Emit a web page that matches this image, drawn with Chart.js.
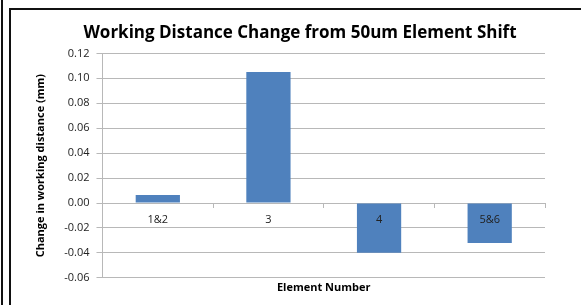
<!DOCTYPE html>
<html>
<head>
<meta charset="utf-8">
<script src="https://cdn.jsdelivr.net/npm/chart.js@4"></script>
<style>
  html, body { margin: 0; padding: 0; background: #fff; }
  body { width: 581px; height: 305px; position: relative; overflow: hidden; }
  .edge { position: absolute; left: 1px; top: 0; width: 2px; height: 305px; background: #111; }
  .frame { position: absolute; left: 9px; top: 8px; width: 590px; height: 310px;
           border-left: 2px solid #111; border-top: 2px solid #111; }
  #wrap { position: absolute; left: 12px; top: 11px; width: 569px; height: 294px; }
</style>
</head>
<body>
<div class="edge"></div>
<div class="frame"></div>
<div id="wrap"><canvas id="chart"></canvas></div>
<script>
// ── Data ──────────────────────────────────────────────────────────────────────

const elements = ['1&2', '3', '4', '5&6'];
const wdChange = [0.0065, 0.105, -0.040, -0.032];

const BAR_BLUE = '#4f81bd';
const GRID = '#b8b8b8';
const FONT = "'Open Sans', 'Liberation Sans', sans-serif";

// ── Chart ─────────────────────────────────────────────────────────────────────

new Chart(document.getElementById('chart').getContext('2d'), {
  type: 'bar',
  data: {
    labels: elements,
    datasets: [{
      data: wdChange,
      backgroundColor: BAR_BLUE,
      borderWidth: 0,
      barPercentage: 0.4,
      categoryPercentage: 1,
    }]
  },
  options: {
    responsive: true,
    maintainAspectRatio: false,
    animation: false,
    layout: { padding: { left: 43, right: 36, top: 4, bottom: 11 } },
    plugins: {
      legend: { display: false },
      tooltip: { enabled: false },
      title: {
        display: true,
        text: 'Working Distance Change from 50um Element Shift',
        color: '#000',
        font: { family: FONT, size: 17, weight: 'bold' },
        padding: { top: 8, bottom: 10 }
      }
    },
    scales: {
      x: {
        position: { y: 0 },
        grid: { display: true, drawOnChartArea: false, drawTicks: true, tickLength: 4, color: GRID, offset: true },
        border: { display: true, color: GRID },
        ticks: { z: 1, color: '#222', font: { family: FONT, size: 11 }, padding: 6 }
      },
      x2: {
        type: 'category',
        labels: elements,
        position: 'bottom',
        grid: { display: false },
        border: { display: false },
        ticks: { display: false },
        title: { display: true, text: 'Element Number', color: '#000', font: { family: FONT, size: 11, weight: 'bold' }, padding: { top: -5, bottom: 0 } }
      },
      y: {
        min: -0.06,
        max: 0.12,
        ticks: {
          stepSize: 0.02,
          color: '#222',
          font: { family: FONT, size: 11 },
          padding: 7,
          callback: v => v.toFixed(2)
        },
        grid: { color: GRID, tickLength: 6 },
        border: { display: true, color: GRID },
        title: { display: true, text: 'Change in working distance (mm)', color: '#000', font: { family: FONT, size: 11, weight: 'bold' }, padding: { top: -21, bottom: 10 } }
      }
    }
  }
});
</script>
</body>
</html>
